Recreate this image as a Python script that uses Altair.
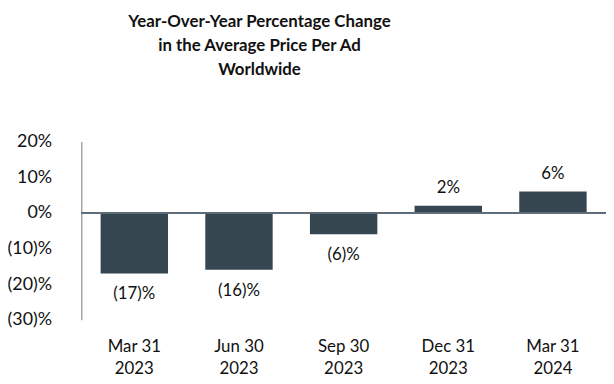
import altair as alt
import pandas as pd

categories = ["Mar 31|2023", "Jun 30|2023", "Sep 30|2023", "Dec 31|2023", "Mar 31|2024"]
values = [-17, -16, -6, 2, 6]
labels = ["(17)%", "(16)%", "(6)%", "2%", "6%"]
y_ticks = [20, 10, 0, -10, -20, -30]

df = pd.DataFrame({"cat": categories, "value": values, "label": labels})

FONT = "Lato"
BAR = "#364651"
FS = 17

x = alt.X("cat:N", sort=categories, title=None,
          scale=alt.Scale(paddingInner=0.356, paddingOuter=0.185),
          axis=alt.Axis(domain=False, ticks=False, labelAngle=0, labelPadding=19,
                        labelExpr="split(datum.label, '|')", labelFontSize=FS,
                        labelFont=FONT, labelColor="#111", labelLineHeight=22))
y = alt.Y("value:Q", title=None,
          scale=alt.Scale(domain=[-30, 20], nice=False),
          axis=alt.Axis(values=y_ticks, tickCount=len(y_ticks), ticks=False, grid=False,
                        domainColor="#a6a6a6",
                        domainWidth=1.5, labelPadding=30, labelFontSize=18, labelFont=FONT,
                        labelColor="#111", labelOverlap=False, labelFlush=False,
                        labelExpr="datum.value < 0 ? '(' + format(-datum.value, 'd') + ')%' : format(datum.value, 'd') + '%'"))

base = alt.Chart(df).encode(x=x, y=y)

bars = base.mark_bar(color=BAR)

zero = base.mark_rule(color="#5c6d79", strokeWidth=1.5).encode(
    x=alt.value(0), x2=alt.value(532), y=alt.datum(0))

neg_text = base.transform_filter("datum.value < 0").mark_text(
    dy=21, fontSize=FS, font=FONT, color="#111", baseline="middle").encode(text="label:N")
pos_text = base.transform_filter("datum.value >= 0").mark_text(
    dy=-18, fontSize=FS, font=FONT, color="#111", baseline="middle").encode(text="label:N")

chart = alt.layer(bars, zero, neg_text, pos_text).properties(
    width=530, height=180,
    autosize=alt.AutoSizeParams(type="none"),
    padding={"left": 74, "top": 133, "right": 0, "bottom": 60},
    title=alt.TitleParams(
        text=["Year-Over-Year Percentage Change", "in the Average Price Per Ad", "Worldwide"],
        font=FONT, fontSize=17, fontWeight="bold", color="#111", anchor="middle",
        dx=-85, offset=54, lineHeight=24.5),
).configure_view(stroke=None)

chart.save("out.html", embed_options={"renderer": "svg", "actions": False})
